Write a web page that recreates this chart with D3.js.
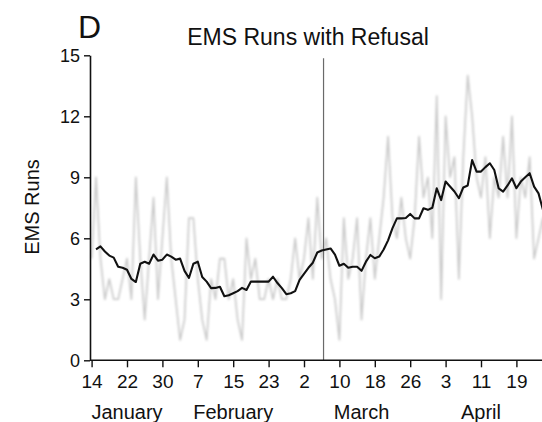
<!DOCTYPE html>
<html>
<head>
<meta charset="utf-8">
<script src="https://cdn.jsdelivr.net/npm/d3@7"></script>
<style>
  html, body { margin: 0; padding: 0; background: #fff; }
  svg { display: block; font-family: "Liberation Sans", Arial, Helvetica, sans-serif; }
</style>
</head>
<body>
<svg id="chart" width="542" height="422"></svg>
<script>
// Daily EMS runs with refusal, starting 14 January 2020 (one value per day)
const startDate = new Date(2020, 0, 14);
const dailyRuns = [
  5, 9, 5, 3, 4, 3, 3, 4, 5, 3,
  9, 5, 2, 5, 8, 3, 6, 9, 5, 3,
  1, 2, 7, 7, 4, 2, 1, 4, 3, 5,
  5, 3, 4, 2, 1, 6, 4, 5, 3, 3,
  4, 3, 4, 3, 3, 4, 6, 4, 5, 7,
  4, 8, 5, 6, 4, 3, 1, 7, 4, 5,
  7, 2, 5, 7, 4, 6, 8, 11, 7, 6,
  8, 6, 5, 7, 11, 8, 9, 6, 13, 3,
  12, 9, 10, 4, 10, 14, 12, 9, 8, 10,
  6, 9, 8, 11, 8, 12, 6, 9, 8, 10,
  5, 6, 7, 5, 6
];

// Rolling average of daily runs, same days (first day has no average)
const avgRuns = [
  null, 5.45, 5.6, 5.35, 5.15, 5.05, 4.6, 4.55, 4.45, 4.0,
  3.85, 4.75, 4.85, 4.75, 5.2, 4.9, 4.95, 5.2, 5.1, 4.95,
  5.0, 4.4, 4.05, 4.75, 4.85, 4.1, 3.87, 3.55, 3.56, 3.62,
  3.15, 3.2, 3.3, 3.4, 3.56, 3.46, 3.87, 3.87, 3.87, 3.87,
  3.87, 4.11, 3.8, 3.55, 3.25, 3.3, 3.4, 3.95, 4.25, 4.55,
  4.8, 5.3, 5.4, 5.45, 5.5, 5.2, 4.65, 4.75, 4.55, 4.6,
  4.6, 4.4, 4.85, 5.18, 5.02, 5.1, 5.45, 5.9, 6.5, 6.98,
  6.98, 7.0, 7.2, 6.98, 6.98, 7.48, 7.4, 7.5, 8.46, 7.88,
  8.79, 8.55, 8.3, 7.97, 8.5, 8.6, 9.85, 9.28, 9.28, 9.5,
  9.69, 9.36, 8.45, 8.3, 8.6, 8.95, 8.46, 8.79, 9.0, 9.2,
  8.54, 8.21, 7.4, 6.9, 6.6
];

const yTicks = [0, 3, 6, 9, 12, 15];
const xTickDates = [
  "2020-01-14", "2020-01-22", "2020-01-30", "2020-02-07", "2020-02-15",
  "2020-02-23", "2020-03-02", "2020-03-10", "2020-03-18", "2020-03-26",
  "2020-04-03", "2020-04-11", "2020-04-19"
];
const monthNames = ["January", "February", "March", "April"];
const monthLabelDates = ["2020-01-22", "2020-02-15", "2020-03-15", "2020-04-11"];
const eventDate = "2020-03-06T10:00";

const parse = s => new Date(s + (s.length === 10 ? "T00:00" : ""));
const dayAt = i => d3.timeDay.offset(startDate, i);

const svg = d3.select("#chart");
svg.append("rect").attr("width", 542).attr("height", 422).attr("fill", "#fff");

const x = d3.scaleTime()
  .domain([startDate, new Date(2020, 4, 1)])
  .range([91.6, 91.6 + 108 * 4.425]);
const y = d3.scaleLinear().domain([0, 15]).range([360.3, 55.3]);

const defs = svg.append("defs");
defs.append("filter").attr("id", "soft")
  .attr("x", "-5%").attr("y", "-5%").attr("width", "110%").attr("height", "110%")
  .append("feGaussianBlur").attr("stdDeviation", 0.8);

// daily series (light grey)
const dailyLine = d3.line()
  .x((d, i) => x(dayAt(i)))
  .y(d => y(d));
svg.append("path")
  .datum(dailyRuns)
  .attr("d", dailyLine)
  .attr("fill", "none")
  .attr("stroke", "#c8c8c8")
  .attr("stroke-width", 1.6)
  .attr("stroke-linejoin", "round")
  .attr("filter", "url(#soft)");

// vertical marker
svg.append("line")
  .attr("x1", x(parse(eventDate))).attr("x2", x(parse(eventDate)))
  .attr("y1", y(15) + 3).attr("y2", y(0))
  .attr("stroke", "#6a6a6a").attr("stroke-width", 1.2);

// rolling average (black)
const avgLine = d3.line()
  .defined(d => d !== null)
  .x((d, i) => x(dayAt(i)))
  .y(d => y(d));
svg.append("path")
  .datum(avgRuns)
  .attr("d", avgLine)
  .attr("fill", "none")
  .attr("stroke", "#111")
  .attr("stroke-width", 2.1)
  .attr("stroke-linejoin", "round");

// axes
const yAxis = d3.axisLeft(y).tickValues(yTicks).tickSize(6).tickSizeOuter(0).tickPadding(4);
const gy = svg.append("g").attr("transform", "translate(90,0)").call(yAxis);

const xAxis = d3.axisBottom(x)
  .tickValues(xTickDates.map(parse))
  .tickFormat(d3.timeFormat("%-d"))
  .tickSize(7).tickSizeOuter(0).tickPadding(7);
const gx = svg.append("g").attr("transform", `translate(0,${y(0)})`).call(xAxis);
gx.select(".domain").attr("d", `M90,0H600`);

[gx, gy].forEach(g => {
  g.select(".domain").attr("stroke", "#111").attr("stroke-width", 1.6);
  g.selectAll(".tick line").attr("stroke", "#111").attr("stroke-width", 1.4);
  g.selectAll(".tick text").attr("fill", "#111").attr("font-size", 19)
    .attr("font-family", "'Liberation Sans', Arial, sans-serif");
});
gy.selectAll(".tick text").attr("font-size", 18);

// month labels
svg.append("g").selectAll("text")
  .data(monthNames)
  .join("text")
  .attr("x", (d, i) => x(parse(monthLabelDates[i])))
  .attr("y", 419)
  .attr("text-anchor", "middle")
  .attr("font-size", 20)
  .attr("fill", "#111")
  .text(d => d);

// titles
svg.append("text")
  .attr("x", 78).attr("y", 38)
  .attr("font-size", 32).attr("fill", "#111")
  .text("D");
svg.append("text")
  .attr("x", 308).attr("y", 45)
  .attr("text-anchor", "middle")
  .attr("font-size", 23).attr("fill", "#111")
  .text("EMS Runs with Refusal");
svg.append("text")
  .attr("transform", "translate(39,207) rotate(-90)")
  .attr("text-anchor", "middle")
  .attr("font-size", 20).attr("fill", "#111")
  .text("EMS Runs");
</script>
</body>
</html>
